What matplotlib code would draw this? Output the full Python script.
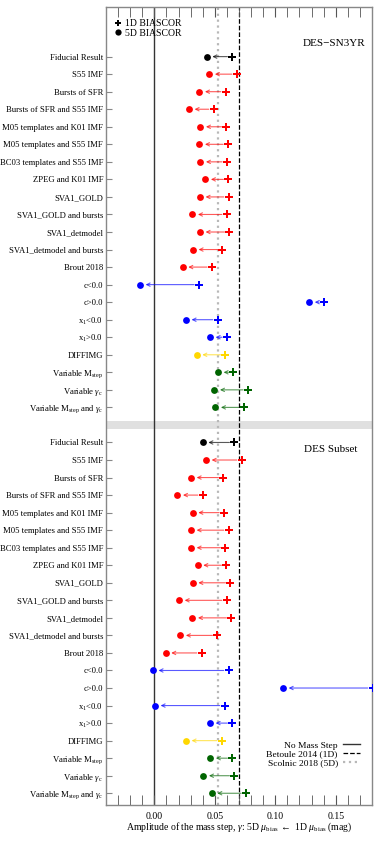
import numpy as np
import matplotlib
matplotlib.use('Agg')
from matplotlib import pyplot as plt
from matplotlib.lines import Line2D

plt.rcParams['font.family'] = 'Liberation Serif'
plt.rcParams['mathtext.fontset'] = 'custom'
plt.rcParams['mathtext.rm'] = 'Liberation Serif'
plt.rcParams['mathtext.it'] = 'Liberation Serif:italic'

labels = ['Fiducial Result', 'S55 IMF', 'Bursts of SFR', 'Bursts of SFR and S55 IMF',
          'M05 templates and K01 IMF', 'M05 templates and S55 IMF',
          'BC03 templates and S55 IMF', 'ZPEG and K01 IMF', 'SVA1_GOLD',
          'SVA1_GOLD and bursts', 'SVA1_detmodel', 'SVA1_detmodel and bursts',
          'Brout 2018', 'c<0.0', 'c>0.0', r'x$_1$<0.0', r'x$_1$>0.0', 'DIFFIMG',
          r'Variable M$_{\rm step}$', r'Variable $\gamma_{\rm c}$',
          r'Variable M$_{\rm step}$ and $\gamma_{\rm c}$']
colors = ['black'] + ['red'] * 12 + ['blue'] * 4 + ['gold'] + ['darkgreen'] * 3

# DES-SN3YR
sn3yr_1d = [0.0644, 0.0681, 0.0590, 0.0490, 0.0595, 0.0609, 0.0600, 0.0611, 0.0614,
            0.0598, 0.0620, 0.0562, 0.0476, 0.0369, 0.1403, 0.0523, 0.0600, 0.0587,
            0.0653, 0.0774, 0.0738]
sn3yr_5d = [0.0433, 0.0454, 0.0372, 0.0286, 0.0380, 0.0372, 0.0380, 0.0421, 0.0377,
            0.0314, 0.0377, 0.0319, 0.0234, -0.0119, 0.1280, 0.0261, 0.0460, 0.0350,
            0.0526, 0.0496, 0.0504]
# DES Subset
sub_1d = [0.0661, 0.0722, 0.0570, 0.0400, 0.0576, 0.0614, 0.0587, 0.0595, 0.0628,
          0.0598, 0.0636, 0.0520, 0.0391, 0.0614, 0.1805, 0.0581, 0.0644, 0.0556,
          0.0644, 0.0661, 0.0758]
sub_5d = [0.0400, 0.0427, 0.0303, 0.0190, 0.0317, 0.0303, 0.0303, 0.0358, 0.0317,
          0.0204, 0.0314, 0.0214, 0.0093, -0.0012, 0.1064, 0.0005, 0.0460, 0.0261,
          0.0462, 0.0405, 0.0474]

betoule = 0.070
scolnic = 0.053

fig = plt.figure(figsize=(3.74, 8.41), dpi=100)
ax = fig.add_axes([0.2834, 0.0428, 0.7113, 0.9489])

n = len(labels)
ypos_top = np.arange(n)
ypos_bot = np.arange(n) + n + 1

ax.axhspan(n - 0.25, n + 0.25, color='#e0e0e0', lw=0, zorder=0)
ax.axvline(0, color='#333333', lw=1.0, zorder=1)
ax.axvline(betoule, color='black', ls='--', lw=0.9, zorder=1)
ax.axvline(scolnic, color='#b8b8b8', ls=':', lw=1.6, zorder=1)

for ypos, v1, v5 in [(ypos_top, sn3yr_1d, sn3yr_5d), (ypos_bot, sub_1d, sub_5d)]:
    for y, a, b, c in zip(ypos, v1, v5, colors):
        ax.annotate('', xy=(b, y), xytext=(a, y),
                    arrowprops=dict(arrowstyle='->', color=c, lw=0.8, alpha=0.65,
                                    shrinkA=3.5, shrinkB=4, mutation_scale=6))
        ax.plot(a, y, marker='P', color=c, ms=5.3, mew=0, zorder=3)
        ax.plot(b, y, marker='o', color=c, ms=4.9, mew=0, zorder=3)

ax.set_xlim(-0.04, 0.18)
ax.set_ylim(2 * n + 0.67, -2.83)
ax.set_yticks(np.concatenate([ypos_top, ypos_bot]))
ax.set_yticklabels(labels + labels)
ax.set_xticks([0.0, 0.05, 0.10, 0.15])
ax.set_xticklabels(['0.00', '0.05', '0.10', '0.15'])
ax.set_xticks(np.arange(-0.03, 0.18, 0.01), minor=True)
ax.tick_params(axis='x', which='both', direction='in', top=True, labelsize=7,
               color='#555555', pad=5)
ax.tick_params(axis='x', which='major', length=7)
ax.tick_params(axis='x', which='minor', length=7)
ax.tick_params(axis='y', direction='in', length=4, labelsize=6.2, color='#888888', pad=2)
for s in ax.spines.values():
    s.set_color('#888888')
    s.set_linewidth(1.0)

ax.set_xlabel(r'Amplitude of the mass step, $\gamma$: 5D $\mu_{\rm bias}$ $\leftarrow$ 1D $\mu_{\rm bias}$ (mag)',
              fontsize=7, labelpad=0)

ax.text(0.975, -0.75, 'DES\u2212SN3YR', transform=ax.get_yaxis_transform(),
        ha='right', va='center', fontsize=8)
ax.text(0.945, n + 1.42, 'DES Subset', transform=ax.get_yaxis_transform(),
        ha='right', va='center', fontsize=8)

h1 = [Line2D([], [], marker='P', color='black', ls='none', ms=5, mew=0),
      Line2D([], [], marker='o', color='black', ls='none', ms=4.5, mew=0)]
leg1 = ax.legend(h1, ['1D BIASCOR', '5D BIASCOR'], loc='upper left', frameon=False,
                 fontsize=7, handlelength=0.6, handletextpad=0.4, labelspacing=0.05,
                 borderaxespad=0.3, bbox_to_anchor=(0.01, 0.993))
ax.add_artist(leg1)

h2 = [Line2D([], [], color='#333333', lw=1.0),
      Line2D([], [], color='black', ls='--', lw=0.9),
      Line2D([], [], color='#b8b8b8', ls=':', lw=1.6)]
ax.legend(h2, ['No Mass Step', 'Betoule 2014 (1D)', 'Scolnic 2018 (5D)'],
          loc='lower right', frameon=False, fontsize=6.8, markerfirst=False,
          handlelength=1.8, handletextpad=0.5, labelspacing=0.0,
          bbox_to_anchor=(0.985, 0.037))

fig.savefig('out.png', dpi=100)
